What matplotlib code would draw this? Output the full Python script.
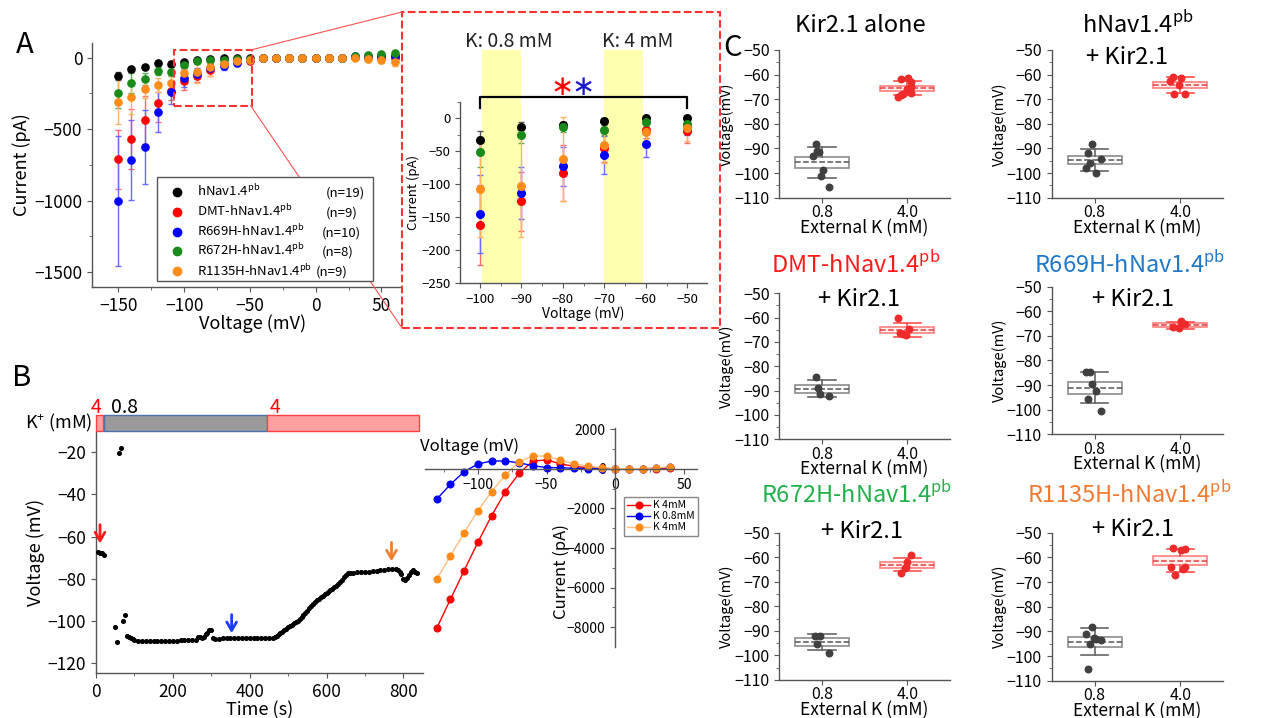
import numpy as np
import matplotlib
matplotlib.use('Agg')
import matplotlib.pyplot as plt
from matplotlib.patches import Rectangle
from matplotlib.lines import Line2D
from matplotlib.ticker import MultipleLocator

plt.rcParams['font.family'] = ['Noto Sans CJK JP', 'DejaVu Sans']
plt.rcParams['mathtext.fontset'] = 'custom'
plt.rcParams['mathtext.rm'] = 'Noto Sans CJK JP'
plt.rcParams['axes.linewidth'] = 1.0
plt.rcParams['axes.edgecolor'] = '#555555'
plt.rcParams['xtick.color'] = '#555555'
plt.rcParams['ytick.color'] = '#555555'
plt.rcParams['xtick.labelcolor'] = 'black'
plt.rcParams['ytick.labelcolor'] = 'black'

# ---------------- data: panel A (I-V, mean +/- sem) ----------------
voltages = [-150, -140, -130, -120, -110, -100, -90, -80, -70, -60, -50, -40,
            -30, -20, -10, 0, 10, 20, 30, 40, 50, 60, 70]
wt_mean = [-128, -81, -67, -39, -44, -33, -14, -11, -4, 0, 0, 0,
           0, 0, 0, 0, 0, 0, 5, 8, 10, 15, 25]
wt_sem = [25, 18, 12, 8, 8, 13, 8, 6, 4, 3, 3, 3, 3, 3, 3, 3, 3, 3, 5, 6, 8, 10, 12]
dmt_mean = [-711, -568, -435, -319, -235, -162, -126, -83, -45, -18, -20, -5,
            -3, -2, 0, 0, 0, 0, 3, 5, 0, -5, -5]
dmt_sem = [205, 210, 170, 130, 60, 61, 45, 42, 22, 12, 17, 5, 4, 3, 3, 3, 3, 3, 6, 8, 10, 12, 14]
r669_mean = [-1002, -716, -627, -382, -242, -145, -113, -73, -56, -39, -15, -5,
             -3, -2, 0, 0, 0, 0, 10, 14, 10, 10, 15]
r669_sem = [455, 280, 260, 140, 80, 59, 39, 30, 29, 20, 10, 5, 4, 3, 3, 3, 3, 3, 8, 10, 10, 12, 12]
r672_mean = [-249, -179, -149, -93, -98, -51, -25, -13, -18, -6, -9, 0,
             0, 0, 0, 0, 0, 0, 15, 20, 25, 35, 45]
r672_sem = [100, 70, 40, 25, 30, 23, 12, 8, 8, 6, 5, 3, 3, 3, 3, 3, 3, 3, 8, 10, 10, 12, 14]
r1135_mean = [-307, -277, -221, -191, -175, -107, -102, -62, -41, -21, -15, -3,
              -2, 0, 0, 0, 0, 0, -5, -10, -19, -28, -33]
r1135_sem = [155, 120, 60, 50, 45, 73, 78, 64, 27, 10, 20, 5, 4, 3, 3, 3, 3, 3, 8, 10, 20, 30, 40]
group_names = ['hNav1.4$^{\\mathrm{pb}}$', 'DMT-hNav1.4$^{\\mathrm{pb}}$',
               'R669H-hNav1.4$^{\\mathrm{pb}}$', 'R672H-hNav1.4$^{\\mathrm{pb}}$',
               'R1135H-hNav1.4$^{\\mathrm{pb}}$']
group_n = ['(n=19)', '(n=9)', '(n=10)', '(n=8)', '(n=9)']

# ---------------- data: panel B (membrane potential vs time) ----------------
time_s = [5, 10, 15, 20, 50, 55, 60, 65, 70, 75, 80, 85, 90, 95, 100, 110, 120, 130,
          140, 150, 160, 170, 180, 190, 200, 210, 220, 230, 240, 250, 260, 265, 270,
          275, 280, 285, 290, 295, 300, 305, 310, 320, 330, 340, 350, 360, 370, 380,
          390, 400, 410, 420, 430, 440, 450, 460, 465, 470, 475, 480, 485, 490, 495,
          500, 505, 510, 515, 520, 525, 530, 535, 540, 545, 550, 555, 560, 565, 570,
          575, 580, 585, 590, 595, 600, 605, 610, 615, 620, 625, 630, 635, 640, 645,
          650, 655, 660, 670, 680, 690, 700, 710, 720, 730, 740, 750, 760, 770, 780,
          785, 790, 795, 800, 805, 810, 815, 820, 825, 830, 835]
vm_mV = [-67.3, -67.5, -67.8, -68.5, -103, -110, -20.5, -18, -100, -97, -107, -107.5,
         -108, -108.5, -109, -109.3, -109.5, -109.5, -109.5, -109.4, -109.4, -109.3,
         -109.3, -109.2, -109.2, -109.2, -109.1, -109.1, -109.1, -109, -109, -107.5,
         -107.3, -108, -107.5, -106, -105.5, -104, -104, -108, -108.5, -108.3, -108.2,
         -108.2, -108.1, -108.1, -108.1, -108.1, -108.1, -108.1, -108.1, -108.1,
         -108.1, -108.1, -108.2, -108, -107.7, -107, -106.3, -105.6, -105, -104.3,
         -103.6, -103, -102.3, -101.7, -101, -100.3, -99.7, -99, -98, -97, -96, -95,
         -94, -93, -92, -91, -90.2, -89.4, -88.7, -88, -87.3, -86.6, -86, -85.3,
         -84.7, -84, -83.3, -82.5, -81.5, -80.3, -79, -78, -77.3, -77, -77, -76.8,
         -76.8, -76.6, -76.5, -76.4, -76.2, -76, -75.8, -75.5, -75.3, -75.5, -76,
         -76.5, -77.5, -80, -80.5, -79.5, -78, -76.5, -76, -76.5, -77]
k_start = [0, 21, 444]
k_end = [19, 444, 840]
k_conc = ['4', '0.8', '4']

# I-V curves at the arrow time points
iv_voltage = [-130, -120, -110, -100, -90, -80, -70, -60, -50, -40, -30, -20, -10, 0, 10, 20, 30, 40]
iv_k4_first = [-8050, -6590, -5140, -3710, -2370, -1160, -230, 390, 440, 250, 120, 50,
               20, 0, 0, 0, 10, 40]
iv_k08 = [-1540, -790, -150, 240, 390, 390, 300, 150, 60, 50, 20, 10, 0, 0, 0, 0, 20, 80]
iv_k4_second = [-5580, -4400, -3230, -2120, -1160, -320, 350, 640, 640, 440, 240, 130,
                60, 0, 0, 10, 40, 100]

# ---------------- data: panel C (resting potential per cell) ----------------
kir_08 = [-88.2, -91.0, -91.6, -93.1, -98.9, -101.1, -105.8]
kir_08_dx = [-0.075, -0.056, -0.029, -0.106, 0.01, -0.017, 0.087]
kir_40 = [-61.6, -61.4, -62.9, -65.2, -65.7, -67.3, -67.9, -68.4, -69.0]
kir_40_dx = [-0.077, 0.008, 0.046, 0.038, 0.0, 0.046, -0.046, -0.077, -0.115]
wt_08 = [-88.0, -91.7, -95.8, -94.2, -98.1, -100.1]
wt_08_dx = [-0.035, -0.073, -0.058, 0.08, -0.104, 0.012]
wt_40 = [-61.0, -61.2, -62.7, -64.4, -67.9, -68.0]
wt_40_dx = [-0.081, 0.008, -0.12, -0.012, -0.07, 0.054]
dmt_08 = [-84.5, -89.0, -91.5, -92.2]
dmt_08_dx = [-0.065, -0.046, -0.019, 0.081]
dmt_40 = [-60.1, -66.4, -64.8, -67.3, -66.8]
dmt_40_dx = [-0.104, -0.085, 0.015, -0.012, -0.054]
r669_08 = [-84.5, -84.5, -89.5, -92.3, -95.6, -100.5]
r669_08_dx = [-0.104, -0.054, -0.027, 0.012, -0.073, 0.08]
r669_40 = [-66.5, -66.9, -63.8, -65.2]
r669_40_dx = [-0.081, -0.012, 0.008, 0.054]
r672_08 = [-91.9, -92.1, -95.3, -98.9]
r672_08_dx = [-0.085, -0.027, -0.058, 0.088]
r672_40 = [-59.1, -61.9, -63.8, -64.3, -66.3]
r672_40_dx = [0.038, 0.0, -0.015, -0.027, -0.077]
r1135_08 = [-88.1, -91.2, -92.6, -93.2, -93.5, -95.3, -105.3]
r1135_08_dx = [-0.035, -0.104, -0.008, 0.02, 0.078, -0.058, -0.073]
r1135_40 = [-56.1, -56.5, -57.0, -63.8, -64.1, -64.7, -67.0]
r1135_40_dx = [-0.081, 0.054, 0.012, 0.058, -0.108, 0.027, -0.062]
ext_k_labels = ['0.8', '4.0']

W, H = 1283, 718
fig = plt.figure(figsize=(W / 100, H / 100), dpi=100)


def add_ax(x0, y0, x1, y1, **kw):
    return fig.add_axes([x0 / W, 1 - y1 / H, (x1 - x0) / W, (y1 - y0) / H], **kw)


def ftext(x, y, s, **kw):
    return fig.text(x / W, 1 - y / H, s, **kw)


def clean(ax):
    ax.spines['top'].set_visible(False)
    ax.spines['right'].set_visible(False)


colors = ['black', '#ff0000', '#0000ff', '#1a8a1a', '#ff8c1a']
ecolors = ['#555555', '#ff6a6a', '#6a6aff', '#5aaa5a', '#ffb46a']
means = [wt_mean, dmt_mean, r669_mean, r672_mean, r1135_mean]
sems = [wt_sem, dmt_sem, r669_sem, r672_sem, r1135_sem]

# ---------------- panel A main ----------------
axA = add_ax(92, 43, 413, 287)
for m, s, c, ec in zip(means, sems, colors, ecolors):
    axA.errorbar(voltages, m, yerr=s, fmt='o', ms=5.2, color=c, ecolor=ec,
                 elinewidth=1, capsize=2, capthick=1)
axA.set_xlim(-170, 74)
axA.set_ylim(-1605, 103)
clean(axA)
axA.set_xticks([-150, -100, -50, 0, 50])
axA.set_yticks([0, -500, -1000, -1500])
axA.xaxis.set_minor_locator(MultipleLocator(25))
axA.yaxis.set_minor_locator(MultipleLocator(250))
axA.tick_params(labelsize=12.5)
axA.set_xlabel('Voltage (mV)', fontsize=13, labelpad=0)
axA.set_ylabel('Current (pA)', fontsize=13, labelpad=2)
axA.add_patch(Rectangle((-108, -335), 60, 389, fill=False, ec='#ff3030',
                        ls='--', lw=1.5, zorder=5))

# legend box drawn by hand so the (n=..) column lines up with each row
fig.patches.append(Rectangle((157 / W, 1 - 281 / H), 216 / W, 104 / H, transform=fig.transFigure,
                             fc='white', ec='#555555', lw=1.0, zorder=2))
row_y = [192, 212, 232, 251, 271]
n_x = [326, 326, 322, 322, 316]
for y, c, name, n, nx in zip(row_y, colors, group_names, group_n, n_x):
    fig.lines.append(Line2D([177 / W], [1 - y / H], transform=fig.transFigure, marker='o',
                            ms=6, color=c, ls='none', zorder=3))
    ftext(197, y + 4.5, name, fontsize=9.5, ha='left', va='baseline', zorder=3)
    ftext(nx, y + 4.5, n, fontsize=9.5, ha='left', va='baseline', zorder=3)

# zoom box and connecting lines
fig.patches.append(Rectangle((402 / W, 1 - 328 / H), 318 / W, 316 / H, transform=fig.transFigure,
                             fc='white', ec='#ff3030', ls='--', lw=1.5, zorder=1))
fig.lines.append(Line2D([250.7 / W, 402 / W], [1 - 50 / H, 1 - 12 / H], transform=fig.transFigure,
                        color='#ff5050', lw=0.8, zorder=1.5))
fig.lines.append(Line2D([250.7 / W, 402 / W], [1 - 105.7 / H, 1 - 328 / H], transform=fig.transFigure,
                        color='#ff5050', lw=0.8, zorder=1.5))

# ---------------- panel A inset ----------------
axI = add_ax(460, 101.7, 707, 283.3, zorder=3)
axI.patch.set_alpha(0)
for x0 in (-99.5, -70):
    axI.add_patch(Rectangle((x0, -250), 9.3, 353, fc='#ffffb0', ec='none',
                            clip_on=False, zorder=0))
for m, s, c, ec in zip(means, sems, colors, ecolors):
    axI.errorbar(voltages, m, yerr=s, fmt='o', ms=5.5, color=c, ecolor=ec,
                 elinewidth=1, capsize=2, capthick=1, zorder=3)
axI.set_xlim(-104.8, -45.25)
axI.set_ylim(-250, 25)
clean(axI)
axI.set_xticks([-100, -90, -80, -70, -60, -50])
axI.set_yticks([0, -50, -100, -150, -200, -250])
axI.xaxis.set_minor_locator(MultipleLocator(5))
axI.yaxis.set_minor_locator(MultipleLocator(25))
axI.tick_params(labelsize=9.5)
axI.set_xlabel('Voltage (mV)', fontsize=10, labelpad=0)
axI.set_ylabel('Current (pA)', fontsize=9.5, labelpad=1)
axI.plot([-100, -100, -50, -50], [16, 32.7, 32.7, 16], color='black', lw=1.6,
         clip_on=False, zorder=4)
axI.text(-80.3, 47, '∗', color='red', fontsize=20, ha='center', va='center',
         family='DejaVu Sans')
axI.text(-75.2, 47, '∗', color='#1a1acc', fontsize=20, ha='center', va='center',
         family='DejaVu Sans')
ftext(509, 41.7, 'K: 0.8 mM', fontsize=14, ha='center', va='center', color='#222222', zorder=4)
ftext(638, 41.7, 'K: 4 mM', fontsize=14, ha='center', va='center', color='#222222', zorder=4)

# ---------------- panel B: Vm vs time ----------------
axB = add_ax(96, 431.7, 423, 673.3)
axB.scatter(time_s, vm_mV, s=7, color='black', zorder=3)
axB.set_xlim(0, 851)
axB.set_ylim(-124.7, -10.3)
clean(axB)
axB.set_xticks([0, 200, 400, 600, 800])
axB.set_yticks([-20, -40, -60, -80, -100, -120])
axB.xaxis.set_minor_locator(MultipleLocator(100))
axB.tick_params(labelsize=12.5)
axB.set_xlabel('Time (s)', fontsize=13, labelpad=0)
axB.set_ylabel('Voltage (mV)', fontsize=13, labelpad=2)
k_label_t = [-15, 39, 451]
for t0, t1, k, lt in zip(k_start, k_end, k_conc, k_label_t):
    high = k != '0.8'
    axB.add_patch(Rectangle((t0, -10.2), t1 - t0, 7.9, clip_on=False,
                            fc='#ffa0a0' if high else '#9a9a9a',
                            ec='#ff4040' if high else '#4a70b0', lw=1))
    axB.text(lt, 1.3, k, color='red' if high else 'black', fontsize=14,
             ha='left', va='center', clip_on=False)
ftext(92, 423, 'K$^{+}$ (mM)', fontsize=13, ha='right', va='center')
for t, y0, y1, c in [(10.4, -53, -64.5, '#ff1a1a'), (353, -95.6, -107, '#1a3cff'),
                     (769, -61.4, -73, '#f08030')]:
    axB.annotate('', xy=(t, y1), xytext=(t, y0),
                 arrowprops=dict(arrowstyle='->,head_width=0.35,head_length=0.6',
                                 color=c, lw=2))

# ---------------- panel B: I-V inset ----------------
axIV = add_ax(425, 427.7, 697, 646.7)
axIV.patch.set_alpha(0)
axIV.plot(iv_voltage, iv_k4_first, '-o', color='#ff0000', ms=4.8, lw=1, label='K 4mM')
axIV.plot(iv_voltage, iv_k08, '-o', color='#0000ff', ms=4.8, lw=1, label='K 0.8mM')
axIV.plot(iv_voltage, iv_k4_second, '-o', color='#ffbe80', mfc='#ff8c1a', mec='#ff8c1a',
          ms=4.8, lw=1, label='K 4mM')
axIV.set_xlim(-138.5, 59.5)
axIV.set_ylim(-8980, 2070)
axIV.spines['left'].set_position(('data', 0))
axIV.spines['bottom'].set_position(('data', 0))
clean(axIV)
axIV.set_xticks([-100, -50, 0, 50])
axIV.set_yticks([2000, 0, -2000, -4000, -6000, -8000])
axIV.xaxis.set_minor_locator(MultipleLocator(25))
axIV.yaxis.set_minor_locator(MultipleLocator(1000))
axIV.tick_params(labelsize=10)
ftext(470, 446.7, 'Voltage (mV)', fontsize=12, ha='center', va='center')
ftext(561.7, 571.7, 'Current (pA)', fontsize=12, ha='center', va='center', rotation=90)
lg = axIV.legend(loc='upper left', bbox_to_anchor=(619 / W, 1 - 492 / H),
                 bbox_transform=fig.transFigure, fontsize=7.5, handlelength=2.2,
                 handletextpad=0.3, labelspacing=0.1, borderpad=0.3, fancybox=False,
                 framealpha=1)
lg.get_frame().set_edgecolor('#888888')

# ---------------- panel C ----------------
panels = [
    ((779.3, 50, 950, 197.7), kir_08, kir_08_dx, kir_40, kir_40_dx),
    ((1051.7, 50, 1223.3, 197.7), wt_08, wt_08_dx, wt_40, wt_40_dx),
    ((779.3, 293.3, 950, 439.3), dmt_08, dmt_08_dx, dmt_40, dmt_40_dx),
    ((1051.7, 286.7, 1223.3, 434.3), r669_08, r669_08_dx, r669_40, r669_40_dx),
    ((779.3, 532.7, 950, 680), r672_08, r672_08_dx, r672_40, r672_40_dx),
    ((1051.7, 532.7, 1223.3, 680.7), r1135_08, r1135_08_dx, r1135_40, r1135_40_dx),
]
box_style = [('#8c8c8c', 'white', '#666666', '#555555', '#404040'),
             ('#ff8080', '#fff0f0', '#ff5050', '#e04040', '#ee2a2a')]

for rect, v08, dx08, v40, dx40 in panels:
    ax = add_ax(*rect)
    stats = []
    for vals in (v08, v40):
        a = np.array(vals)
        mu = a.mean()
        sd = a.std(ddof=1)
        se = sd / np.sqrt(len(a))
        stats.append(dict(med=mu, q1=mu - se, q3=mu + se, whislo=mu - sd, whishi=mu + sd, fliers=[]))
    bp = ax.bxp(stats, positions=[1, 2], widths=0.63, capwidths=0.32, showfliers=False,
                patch_artist=True)
    for i, (ec, fc, wc, mc, pc) in enumerate(box_style):
        bp['boxes'][i].set(edgecolor=ec, facecolor=fc, lw=1.2)
        bp['medians'][i].set(color=mc, ls='--', lw=1.1)
        for j in (2 * i, 2 * i + 1):
            bp['whiskers'][j].set(color=wc, lw=1.2)
            bp['caps'][j].set(color=wc, lw=1.2)
    ax.scatter(1 + np.array(dx08), v08, s=22, color=box_style[0][4], zorder=4)
    ax.scatter(2 + np.array(dx40), v40, s=22, color=box_style[1][4], zorder=4)
    ax.set_xlim(0.5, 2.5)
    ax.set_ylim(-110, -50)
    clean(ax)
    ax.set_xticks([1, 2])
    ax.set_xticklabels(ext_k_labels)
    ax.set_yticks([-50, -60, -70, -80, -90, -100, -110])
    ax.yaxis.set_minor_locator(MultipleLocator(5))
    ax.tick_params(labelsize=11.5)
    ax.tick_params(axis='x', pad=1)
    ax.set_xlabel('External K (mM)', fontsize=12.5, labelpad=-1.5)
    ax.set_ylabel('Voltage(mV)', fontsize=10.5, labelpad=0)

ftext(860, 25, 'Kir2.1 alone', fontsize=17, ha='center', va='center')
ftext(1138, 25, 'hNav1.4$^{\\mathrm{pb}}$', fontsize=17, ha='center', va='center')
ftext(1127, 58, '+ Kir2.1', fontsize=17, ha='center', va='center')
ftext(856, 265, 'DMT-hNav1.4$^{\\mathrm{pb}}$', fontsize=17, ha='center', va='center', color='#ff1a1a')
ftext(859, 300, '+ Kir2.1', fontsize=17, ha='center', va='center')
ftext(1130, 265, 'R669H-hNav1.4$^{\\mathrm{pb}}$', fontsize=17, ha='center', va='center', color='#1f78c8')
ftext(1133, 300, '+ Kir2.1', fontsize=17, ha='center', va='center')
ftext(857, 495, 'R672H-hNav1.4$^{\\mathrm{pb}}$', fontsize=17, ha='center', va='center', color='#22b04a')
ftext(862, 531, '+ Kir2.1', fontsize=17, ha='center', va='center')
ftext(1129, 495, 'R1135H-hNav1.4$^{\\mathrm{pb}}$', fontsize=17, ha='center', va='center', color='#f07a30')
ftext(1133, 530, '+ Kir2.1', fontsize=17, ha='center', va='center')

# panel letters
ftext(25, 45, 'A', fontsize=21, ha='center', va='center')
ftext(22, 378, 'B', fontsize=21, ha='center', va='center')
ftext(733, 48, 'C', fontsize=21, ha='center', va='center')

fig.savefig('out.png', dpi=100)
